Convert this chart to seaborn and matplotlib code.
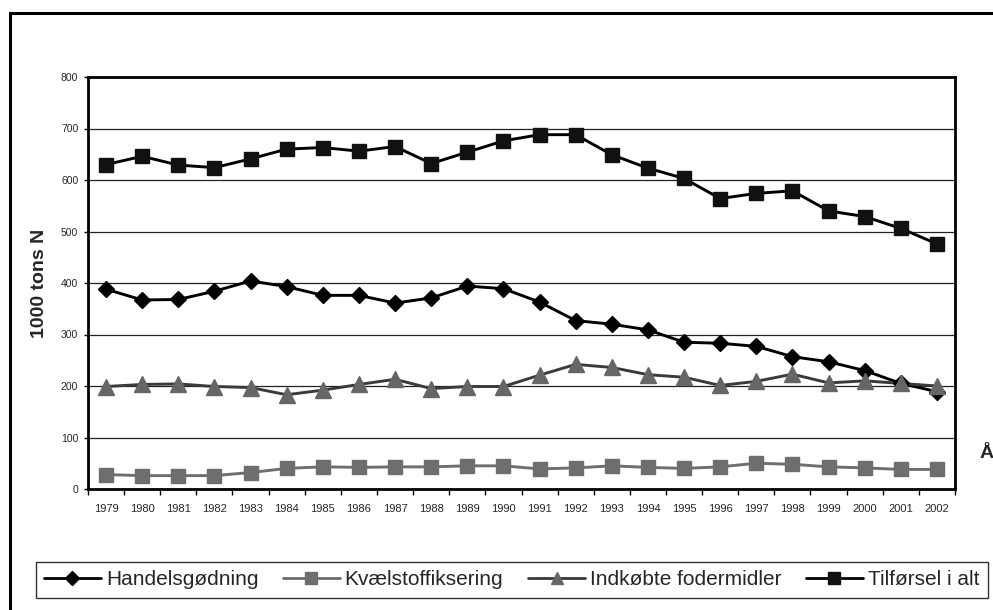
import matplotlib
matplotlib.use("Agg")
import matplotlib.pyplot as plt
from matplotlib.patches import Rectangle
import seaborn as sns
import pandas as pd

years = [str(y) for y in range(1979, 2003)]

handelsgoedning = [388, 367, 368, 384, 404, 393, 376, 376, 361, 371, 394, 389,
                   363, 327, 320, 309, 285, 283, 277, 257, 247, 230, 205, 189]
kvaelstoffiksering = [28, 26, 26, 26, 32, 40, 43, 42, 43, 43, 45, 45,
                      39, 41, 45, 42, 40, 43, 50, 48, 43, 41, 38, 38]
fodermidler = [199, 203, 204, 199, 197, 183, 192, 203, 213, 195, 199, 199,
               221, 242, 236, 222, 217, 201, 209, 223, 206, 210, 205, 200]
tilfoersel = [630, 646, 629, 624, 641, 660, 663, 656, 665, 632, 654, 676,
              688, 688, 649, 623, 603, 564, 574, 579, 540, 529, 506, 476]

series_names = ["Handelsgødning", "Kvælstoffiksering", "Indkøbte fodermidler", "Tilførsel i alt"]
series_values = [handelsgoedning, kvaelstoffiksering, fodermidler, tilfoersel]
line_colors = ["#000000", "#6e6e6e", "#3a3a3a", "#000000"]
marker_colors = ["#000000", "#6e6e6e", "#666666", "#111111"]
marker_shapes = ["D", "s", "^", "s"]
marker_sizes = [8.5, 10, 11, 10.5]

rows = []
for name, vals in zip(series_names, series_values):
    for i, v in enumerate(vals):
        rows.append({"idx": i, "value": v, "serie": name})
df = pd.DataFrame(rows)

sns.set_theme(style="white")
plt.rcParams["font.family"] = ["Liberation Sans", "DejaVu Sans"]

W, H = 993, 610
fig = plt.figure(figsize=(W / 100, H / 100), dpi=100)
ax = fig.add_axes([88 / W, (H - 489) / H, (955 - 88) / W, (489 - 77) / H])

sns.lineplot(data=df, x="idx", y="value", hue="serie", hue_order=series_names,
             palette=dict(zip(series_names, line_colors)), linewidth=2.1,
             legend=False, ax=ax, sort=False)

# markers drawn per series so face colours can differ from the line colour
handles = []
for name, vals, lc, mc, mk, ms in zip(series_names, series_values, line_colors,
                                       marker_colors, marker_shapes, marker_sizes):
    ax.plot(range(len(vals)), vals, linestyle="none", marker=mk, markersize=ms,
            markerfacecolor=mc, markeredgecolor=mc, zorder=5)
    h, = ax.plot([], [], color=lc, linewidth=2.0, marker=mk, markersize=ms * 0.85,
                 markerfacecolor=mc, markeredgecolor=mc)
    handles.append(h)

ax.set_xlim(-0.5, len(years) - 0.5)
ax.set_ylim(0, 800)
ax.set_yticks(range(0, 801, 100))
ax.set_xticks(range(len(years)))
ax.set_xticklabels(years)
ax.set_xticks([i - 0.5 for i in range(len(years) + 1)], minor=True)
ax.tick_params(axis="x", which="major", length=0, pad=11, labelsize=8)
ax.tick_params(axis="x", which="minor", length=4, width=1, direction="out",
               color="black", bottom=True)
ax.tick_params(axis="y", length=3, width=1, direction="out", color="black",
               left=True, labelsize=7.5, pad=4)

ax.set_xlabel("")
ax.set_ylabel("")
ax.yaxis.grid(True, color="#222222", linewidth=0.9)
ax.xaxis.grid(False)
ax.set_axisbelow(True)
for sp in ax.spines.values():
    sp.set_visible(True)
    sp.set_color("black")
    sp.set_linewidth(2.0)

fig.text(40 / W, 1 - 283 / H, "1000 tons N", rotation=90, ha="center", va="center",
         fontsize=14, fontweight="bold")
fig.text(979 / W, 1 - 453 / H, "År", ha="left", va="center",
         fontsize=14, fontweight="bold")

# outer chart frame
fig.patches.append(Rectangle((10 / W, -0.2), 1.5, 1 - 13 / H + 0.2,
                             transform=fig.transFigure, fill=False,
                             edgecolor="black", linewidth=2.2, zorder=0))

leg = fig.legend(handles, series_names, loc="upper left",
                 bbox_to_anchor=(36 / W, 1 - 562 / H), ncol=4, frameon=True,
                 fancybox=False, fontsize=15, handlelength=2.7,
                 handletextpad=0.25, columnspacing=1.2, borderpad=0.4,
                 borderaxespad=0)
leg.get_frame().set_edgecolor("black")
leg.get_frame().set_linewidth(1.0)

fig.savefig("out.png", dpi=100)
